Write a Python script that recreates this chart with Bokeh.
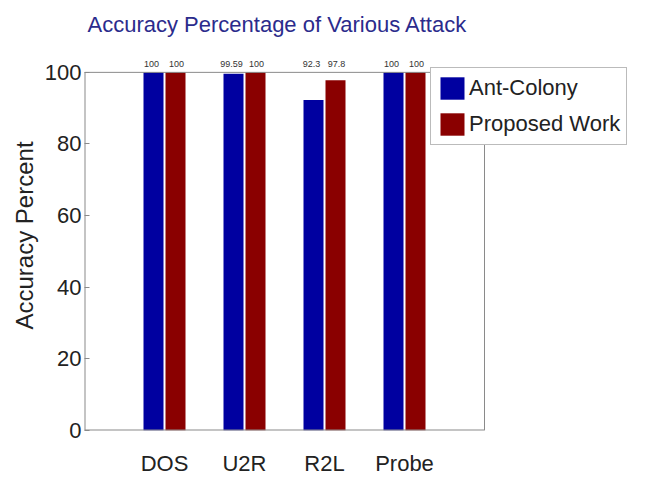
from bokeh.plotting import figure
from bokeh.models import Range1d, FixedTicker, ColumnDataSource, LabelSet, Legend, LegendItem
from bokeh.core.properties import value
from bokeh.embed import file_html
from bokeh.resources import INLINE

categories = ["DOS", "U2R", "R2L", "Probe"]
ant_colony = [100, 99.59, 92.3, 100]
proposed = [100, 100, 97.8, 100]
ant_labels = ["100", "99.59", "92.3", "100"]
prop_labels = ["100", "100", "97.8", "100"]
y_ticks = [0, 20, 40, 60, 80, 100]

FONT = "Liberation Sans"
BLUE = "#0000a0"
RED = "#8a0000"
GRAY = "#8a8a8a"

pos = [i + 1 for i in range(len(categories))]
off = 0.1375
bw = 0.25
X_END = 5.0      # visible box right edge (data units)
Y_END = 100.0    # visible box top edge

# frame extended beyond the visible box so legend and value labels are not clipped
p = figure(width=640, height=478, output_backend="svg", toolbar_location=None,
           x_range=Range1d(0, 6.85), y_range=Range1d(0, 108.9),
           min_border_left=84, min_border_right=8, min_border_top=40, min_border_bottom=46)

src_a = ColumnDataSource(dict(x=[v - off for v in pos], top=ant_colony))
src_p = ColumnDataSource(dict(x=[v + off for v in pos], top=proposed))
ra = p.vbar(x="x", top="top", width=bw, source=src_a, fill_color=BLUE, line_color=None)
rp = p.vbar(x="x", top="top", width=bw, source=src_p, fill_color=RED, line_color=None)

# box lines
p.segment(x0=[0, X_END], y0=[Y_END, 0], x1=[X_END, X_END], y1=[Y_END, Y_END],
          line_color=GRAY, line_width=1)
p.segment(x0=[0, 0], y0=[0, 0], x1=[X_END, 0], y1=[0, Y_END],
          line_color=GRAY, line_width=2)

src_la = ColumnDataSource(dict(x=[v - off for v in pos], y=[Y_END] * 4, lab=ant_labels))
src_lp = ColumnDataSource(dict(x=[v + off for v in pos], y=[Y_END] * 4, lab=prop_labels))
for s, xo in ((src_la, -2), (src_lp, 1)):
    p.add_layout(LabelSet(x="x", y="y", text="lab", source=s, text_font=value(FONT),
                          text_font_size=value("9px"), text_color="#333", text_align="center",
                          text_baseline="bottom", y_offset=5, x_offset=xo))

p.title.text = "Accuracy Percentage of Various Attack"
p.title.text_font = FONT
p.title.text_font_size = "22px"
p.title.text_font_style = "normal"
p.title.text_color = "#2b2b8c"
p.title.align = "left"
p.title.offset = 3
p.title.standoff = 7

p.xgrid.visible = False
p.ygrid.visible = False
p.outline_line_color = None
p.background_fill_color = "white"
p.border_fill_color = "white"

p.xaxis.ticker = FixedTicker(ticks=pos)
p.xaxis.major_label_overrides = {v: c for v, c in zip(pos, categories)}
p.xaxis.major_label_text_font = FONT
p.xaxis.major_label_text_font_size = "22px"
p.xaxis.major_label_text_color = "#222"
p.xaxis.major_tick_in = 0
p.xaxis.major_tick_out = 0
p.xaxis.minor_tick_line_color = None
p.xaxis.axis_line_color = None
p.xaxis.major_label_standoff = 20

p.yaxis.ticker = FixedTicker(ticks=y_ticks)
p.yaxis.major_label_text_font = FONT
p.yaxis.major_label_text_font_size = "22px"
p.yaxis.major_label_text_color = "#222"
p.yaxis.major_tick_in = 5
p.yaxis.major_tick_out = 0
p.yaxis.major_tick_line_color = GRAY
p.yaxis.minor_tick_line_color = None
p.yaxis.axis_line_color = None
p.yaxis.major_label_standoff = 3
p.yaxis.axis_label = "Accuracy Percent"
p.yaxis.axis_label_text_font = FONT
p.yaxis.axis_label_text_font_size = "24px"
p.yaxis.axis_label_text_font_style = "normal"
p.yaxis.axis_label_text_color = "#222"
p.yaxis.axis_label_standoff = 4

legend = Legend(items=[LegendItem(label="Ant-Colony", renderers=[ra]),
                       LegendItem(label="Proposed Work", renderers=[rp])],
                location=(346, 285))
legend.label_text_font = FONT
legend.label_text_font_size = "22px"
legend.label_text_color = "#222"
legend.glyph_width = 30
legend.glyph_height = 28
legend.label_height = 28
legend.label_standoff = 2
legend.spacing = 8
legend.padding = 6
legend.margin = 0
legend.border_line_color = "#777777"
legend.background_fill_alpha = 1
p.add_layout(legend, "center")

open("out.html", "w").write(file_html(p, INLINE))
